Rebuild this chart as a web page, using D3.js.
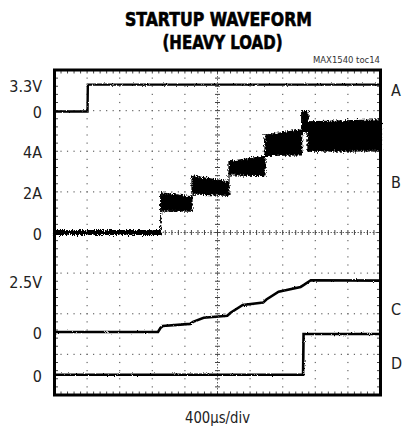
<!DOCTYPE html>
<html>
<head>
<meta charset="utf-8">
<script src="https://cdn.jsdelivr.net/npm/d3@7"></script>
<style>
  html, body { margin: 0; padding: 0; background: #fff; }
  svg { display: block; }
  .narrow { font-family: "Liberation Sans Narrow", "Arial Narrow", "DejaVu Sans Condensed", "Liberation Sans", sans-serif; font-stretch: condensed; }
</style>
</head>
<body>
<div id="chart"></div>
<script>
// ---------------- data ----------------
// time axis: 400 µs/div, 10 divisions
const timeRange = [0, 4000];            // µs
// Trace A (V)
const aTime = [0, 405, 409, 4000];
const aVolt = [0, 0, 3.3, 3.3];
// Trace B : inductor current envelope (A), per step segment
const bEdges   = [0, 1303, 1687, 2141, 2583, 3033, 3110, 4000];
const bHiStart = [0.09, 1.95, 2.78, 3.50, 4.80, 6.00, 5.45];
const bHiEnd   = [0.09, 1.75, 2.50, 3.75, 5.05, 5.95, 5.55];
const bLoStart = [-0.09, 1.08, 1.90, 2.85, 3.80, 4.95, 4.00];
const bLoEnd   = [-0.09, 1.05, 1.83, 2.80, 3.82, 4.95, 4.02];
// Trace C : output voltage (V)
const cTime = [0, 1270, 1300, 1330, 1665, 1700, 1830, 2120, 2160, 2310, 2560, 2600, 2750, 3020, 3060, 3145, 4000];
const cVolt = [0, 0, 0.2, 0.30, 0.40, 0.50, 0.70, 0.80, 0.95, 1.33, 1.45, 1.60, 1.99, 2.22, 2.32, 2.55, 2.53];
// Trace D (V)
const dTime = [0, 3050, 3056, 4000];
const dVolt = [0, 0, 5, 5];
// left tick labels (channel, value, text)
const tickChannels = ["A", "A", "B", "B", "B", "C", "C", "D"];
const tickValues   = [3.3, 0, 4, 2, 0, 2.5, 0, 0];
const tickTexts    = ["3.3V", "0", "4A", "2A", "0", "2.5V", "0", "0"];
// channel markers on the right
const markerNames = ["A", "B", "C", "D"];
const titleLines = ["STARTUP WAVEFORM", "(HEAVY LOAD)"];
const noteText = "MAX1540  toc14";
const xLabel = "400µs/div";

// ---------------- layout ----------------
const W = 402, H = 431;
const X0 = 54.5, X1 = 380.5, Y0 = 70, Y1 = 395;
const NX = 10, NY = 8, MINOR = 5;

const svg = d3.select("#chart").append("svg").attr("width", W).attr("height", H);

const x = d3.scaleLinear().domain(timeRange).range([X0, X1]);
const yDiv = d3.scaleLinear().domain([0, NY]).range([Y1, Y0]);
const xDiv = d3.scaleLinear().domain([0, NX]).range([X0, X1]);

// channel settings: zero offset (div from bottom) and units/div
const channels = {
  A: { offset: 6.98, perDiv: 5, marker: 7.52 },
  B: { offset: 4.0,  perDiv: 2, marker: 5.25 },
  C: { offset: 1.55, perDiv: 2, marker: 2.12 },
  D: { offset: 0.5,  perDiv: 5, marker: 0.78 }
};
const ch = k => d3.scaleLinear().domain([0, channels[k].perDiv]).range([yDiv(channels[k].offset), yDiv(channels[k].offset + 1)]);
const yA = ch("A"), yB = ch("B"), yC = ch("C"), yD = ch("D");

// filter for scope noise texture
const defs = svg.append("defs");
function noiseFilter(id, scale, freq) {
  const f = defs.append("filter").attr("id", id).attr("filterUnits", "userSpaceOnUse")
    .attr("x", 0).attr("y", 0).attr("width", W).attr("height", H);
  f.append("feTurbulence").attr("type", "fractalNoise").attr("baseFrequency", freq)
    .attr("numOctaves", 2).attr("seed", 7).attr("result", "n");
  f.append("feDisplacementMap").attr("in", "SourceGraphic").attr("in2", "n")
    .attr("scale", scale).attr("xChannelSelector", "R").attr("yChannelSelector", "G");
}
noiseFilter("nLine", 2.2, "0.9 0.9");
noiseFilter("nBand", 6, "0.9 0.45");

// ---------------- grid ----------------
const grid = svg.append("g");
const dotColor = "#666";
for (let i = 1; i < NX; i++) {
  if (i === NX / 2) continue;
  for (let j = 1; j < NY * MINOR; j++) {
    grid.append("rect").attr("x", xDiv(i) - 0.6).attr("y", yDiv(j / MINOR) - 0.6)
      .attr("width", 1.2).attr("height", 1.2).attr("fill", dotColor);
  }
}
for (let j = 1; j < NY; j++) {
  if (j === NY / 2) continue;
  for (let i = 1; i < NX * MINOR; i++) {
    grid.append("rect").attr("x", xDiv(i / MINOR) - 0.6).attr("y", yDiv(j) - 0.6)
      .attr("width", 1.2).attr("height", 1.2).attr("fill", dotColor);
  }
}
// center crosshair
grid.append("line").attr("x1", xDiv(NX / 2)).attr("x2", xDiv(NX / 2)).attr("y1", Y0).attr("y2", Y1)
  .attr("stroke", "#666").attr("stroke-width", 1).attr("stroke-dasharray", "1.5,1.5");
grid.append("line").attr("x1", X0).attr("x2", X1).attr("y1", yDiv(NY / 2)).attr("y2", yDiv(NY / 2))
  .attr("stroke", "#666").attr("stroke-width", 1).attr("stroke-dasharray", "1.5,1.5");
for (let j = 1; j < NY * MINOR; j++) {
  const yy = yDiv(j / MINOR);
  grid.append("line").attr("x1", xDiv(NX / 2) - 2.5).attr("x2", xDiv(NX / 2) + 2.5)
    .attr("y1", yy).attr("y2", yy).attr("stroke", "#444").attr("stroke-width", 1);
}
for (let i = 1; i < NX * MINOR; i++) {
  const xx = xDiv(i / MINOR);
  grid.append("line").attr("x1", xx).attr("x2", xx)
    .attr("y1", yDiv(NY / 2) - 2.5).attr("y2", yDiv(NY / 2) + 2.5).attr("stroke", "#444").attr("stroke-width", 1);
}
// border minor ticks
for (let i = 1; i < NX * MINOR; i++) {
  const xx = xDiv(i / MINOR);
  grid.append("line").attr("x1", xx).attr("x2", xx).attr("y1", Y0).attr("y2", Y0 + 3.5).attr("stroke", "#444").attr("stroke-width", 1);
  grid.append("line").attr("x1", xx).attr("x2", xx).attr("y1", Y1).attr("y2", Y1 - 3.5).attr("stroke", "#444").attr("stroke-width", 1);
}
for (let j = 1; j < NY * MINOR; j++) {
  const yy = yDiv(j / MINOR);
  grid.append("line").attr("x1", X0).attr("x2", X0 + 3.5).attr("y1", yy).attr("y2", yy).attr("stroke", "#444").attr("stroke-width", 1);
  grid.append("line").attr("x1", X1).attr("x2", X1 - 3.5).attr("y1", yy).attr("y2", yy).attr("stroke", "#444").attr("stroke-width", 1);
}

// ---------------- traces ----------------
const traces = svg.append("g");
const lineGen = (ys) => d3.line().x(d => x(d[0])).y(d => ys(d[1]));

traces.append("path").datum(d3.zip(aTime, aVolt)).attr("d", lineGen(yA))
  .attr("fill", "none").attr("stroke", "#000").attr("stroke-width", 2.4).attr("filter", "url(#nLine)");

const bPts = [];
for (let i = 0; i < bHiStart.length; i++) {
  bPts.push({ t: bEdges[i], hi: bHiStart[i], lo: bLoStart[i] });
  bPts.push({ t: bEdges[i + 1], hi: bHiEnd[i], lo: bLoEnd[i] });
}
traces.append("path").datum(bPts)
  .attr("d", d3.area().x(d => x(d.t)).y0(d => yB(d.lo)).y1(d => yB(d.hi)))
  .attr("fill", "#000").attr("stroke", "#000").attr("stroke-width", 1.2).attr("filter", "url(#nBand)");

traces.append("path").datum(d3.zip(cTime, cVolt)).attr("d", lineGen(yC))
  .attr("fill", "none").attr("stroke", "#000").attr("stroke-width", 2.6).attr("filter", "url(#nLine)");
traces.append("path").datum(d3.zip(dTime, dVolt)).attr("d", lineGen(yD))
  .attr("fill", "none").attr("stroke", "#000").attr("stroke-width", 2.6).attr("filter", "url(#nLine)");

// border
svg.append("rect").attr("x", X0).attr("y", Y0).attr("width", X1 - X0).attr("height", Y1 - Y0)
  .attr("fill", "none").attr("stroke", "#000").attr("stroke-width", 3);

// ---------------- text ----------------
const scales = { A: yA, B: yB, C: yC, D: yD };
tickTexts.forEach((t, i) => {
  svg.append("text").attr("class", "narrow")
    .attr("x", 42).attr("y", scales[tickChannels[i]](tickValues[i]) + 7)
    .attr("text-anchor", "end").attr("font-size", 16).attr("fill", "#222").text(t);
});
markerNames.forEach(m => {
  svg.append("text").attr("class", "narrow").attr("x", 391).attr("y", yDiv(channels[m].marker) + 6)
    .attr("font-size", 16).attr("fill", "#222").text(m);
});
svg.append("text").attr("class", "narrow").attr("x", 218.5).attr("y", 26)
  .attr("text-anchor", "middle").attr("font-size", 19.5).attr("font-weight", "bold")
  .attr("stroke", "#000").attr("stroke-width", 0.6)
  .attr("textLength", 187).attr("lengthAdjust", "spacingAndGlyphs").text(titleLines[0]);
svg.append("text").attr("class", "narrow").attr("x", 222.5).attr("y", 48.5)
  .attr("text-anchor", "middle").attr("font-size", 19.5).attr("font-weight", "bold")
  .attr("stroke", "#000").attr("stroke-width", 0.6)
  .attr("textLength", 120).attr("lengthAdjust", "spacingAndGlyphs").text(titleLines[1]);
svg.append("text").attr("class", "narrow").attr("x", 313).attr("y", 63)
  .attr("font-size", 9.5).attr("fill", "#333")
  .attr("textLength", 67).attr("lengthAdjust", "spacingAndGlyphs").text(noteText);
svg.append("text").attr("class", "narrow").attr("x", 217.5).attr("y", 423)
  .attr("text-anchor", "middle").attr("font-size", 16).attr("fill", "#222")
  .attr("textLength", 65).attr("lengthAdjust", "spacingAndGlyphs").text(xLabel);
</script>
</body>
</html>
